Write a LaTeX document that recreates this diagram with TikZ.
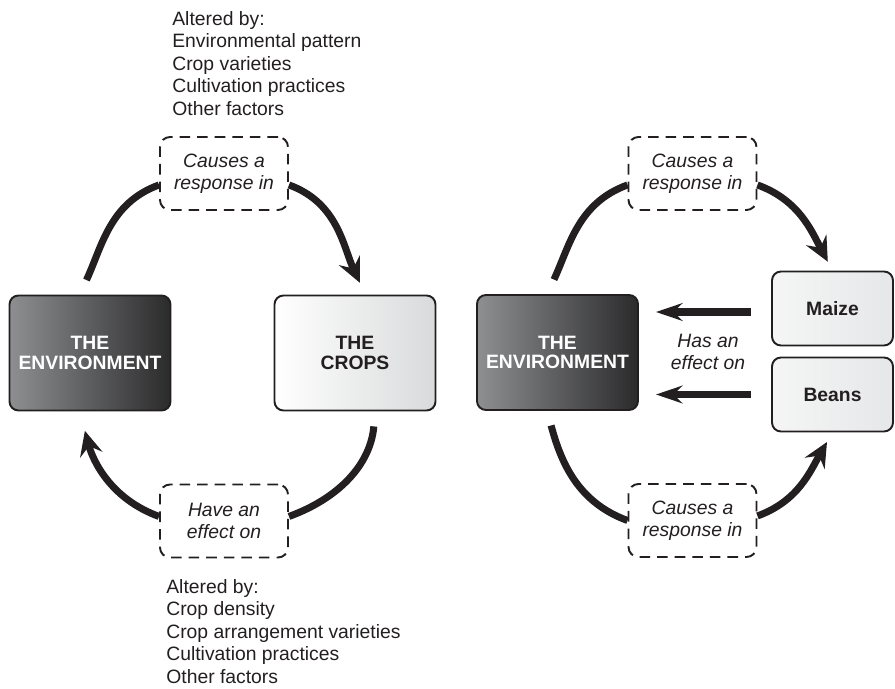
\documentclass[tikz,border=0pt]{standalone}
\usepackage{fontspec}
\setmainfont{Liberation Sans}
\usetikzlibrary{arrows.meta}
\definecolor{ink}{HTML}{231F20}
\definecolor{envlight}{HTML}{8E8F91}
\definecolor{envdark}{HTML}{2B2B2C}
\definecolor{cropdark}{HTML}{D9DADB}
\definecolor{pale}{HTML}{E6E7E8}
\tikzset{
  box/.style={draw=ink,line width=1.1pt,rounded corners=0.18cm,minimum width=3.22cm,
    minimum height=2.3cm,align=center,font=\fontsize{11}{11}\selectfont\bfseries},
  envbox/.style={box,left color=envlight,right color=envdark,text=white},
  cropbox/.style={box,left color=white,right color=cropdark,text=ink},
  smallbox/.style={box,minimum width=2.42cm,minimum height=1.48cm,left color=white!60!pale,right color=pale,text=ink},
  notebox/.style={draw=ink,line width=1.1pt,dash pattern=on 6pt off 4pt,rounded corners=0.2cm,
    minimum width=2.56cm,minimum height=1.46cm,align=center,text=ink,
    font=\fontsize{11}{12.5}\selectfont\itshape},
  listtext/.style={inner sep=0pt,align=left,text=ink,font=\fontsize{11}{12.8}\selectfont},
  bow/.style={draw=ink,line width=4pt},
  bowarrow/.style={bow,-{Stealth[length=14pt,width=13pt,inset=5pt]}},
  push/.style={draw=ink,line width=4pt,-{Stealth[length=15pt,width=10pt,inset=5pt]}}
}
\begin{document}
\begin{tikzpicture}
\useasboundingbox (0,0) rectangle (17.9,13.76);
% left cycle
\node[envbox] (envL) at (1.8,6.70) {THE\\ENVIRONMENT};
\node[cropbox] (crops) at (7.1,6.70) {THE\\CROPS};
\node[notebox] (topL) at (4.48,10.29) {Causes a\\response in};
\node[notebox] (botL) at (4.48,3.34) {Have an\\effect on};
\node[listtext,anchor=north west] (alterTop) at (3.44,13.54)
  {Altered by:\\Environmental pattern\\Crop varieties\\Cultivation practices\\Other factors};
\node[listtext,anchor=north west] (alterBot) at (3.32,2.18)
  {Altered by:\\Crop density\\Crop arrangement varieties\\Cultivation practices\\Other factors};
\draw[bow,shorten <=0.32cm] (envL.100) to[out=65,in=200] (topL.190);
\draw[bowarrow,shorten >=0.26cm] (topL.-10) to[out=-20,in=115] (crops.80);
\draw[bow,shorten <=0.3cm] (crops.-71) to[out=-95,in=20] (botL.4);
\draw[bowarrow,shorten >=0.4cm] (botL.176) to[out=160,in=-75] (envL.-100);
% right cycle
\node[envbox] (envR) at (11.15,6.71) {THE\\ENVIRONMENT};
\node[smallbox] (maize) at (16.65,7.59) {Maize};
\node[smallbox] (beans) at (16.65,5.87) {Beans};
\node[notebox] (topR) at (13.85,10.29) {Causes a\\response in};
\node[notebox] (botR) at (13.85,3.35) {Causes a\\response in};
\node[notebox,draw=none] (effect) at (14.16,6.72) {Has an\\effect on};
\draw[bow,shorten <=0.32cm] (envR.100) to[out=65,in=200] (topR.190);
\draw[bowarrow,shorten >=0.2cm] (topR.-10) to[out=-20,in=118] (maize.north);
\draw[bow,shorten <=0.3cm] (envR.-100) to[out=-75,in=160] (botR.west);
\draw[bowarrow,shorten >=0.22cm] (botR.4) to[out=20,in=240] (beans.south);
\draw[push,shorten <=0.4cm,shorten >=0.34cm] ([yshift=-0.07cm]maize.west) -- ([yshift=-0.07cm]maize.west -| envR.east);
\draw[push,shorten <=0.4cm,shorten >=0.34cm] (beans.west) -- (beans.west -| envR.east);
\end{tikzpicture}
\end{document}
